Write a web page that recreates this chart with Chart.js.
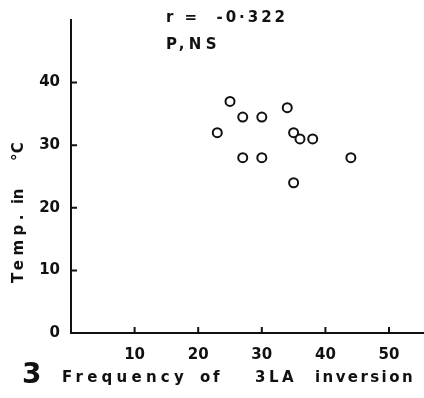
<!DOCTYPE html>
<html>
<head>
<meta charset="utf-8">
<script src="https://cdn.jsdelivr.net/npm/chart.js@4/dist/chart.umd.min.js"></script>
<style>
  html, body { margin: 0; padding: 0; background: #fff; }
  canvas { display: block; }
</style>
</head>
<body>
<canvas id="c" width="424" height="398"></canvas>
<script>
// frequency of 3LA inversion vs temperature
var freq = [25, 27, 30, 34, 23, 35, 36, 38, 27, 30, 44, 35];
var temp = [37, 34.5, 34.5, 36, 32, 32, 31, 31, 28, 28, 28, 24];
var xTicks = [10, 20, 30, 40, 50];
var yTicks = [0, 10, 20, 30, 40];
var rText = 'r =  -0\u00b7322';
var pText = 'P,NS';

var points = freq.map(function(f, i){ return {x: f, y: temp[i]}; });

var ink = '#111';
var font = '"DejaVu Sans", sans-serif';

// draw a word stretched to a given width
function fitText(ctx, txt, x, y, w){
	ctx.letterSpacing = '0px';
	var nat = ctx.measureText(txt).width;
	var sp = (w - nat) / txt.length;
	ctx.letterSpacing = sp + 'px';
	ctx.fillText(txt, x, y);
}

// inward ticks, annotation text and axis titles
var decor = {
	id: 'decor',
	afterDraw: function(chart){
		var ctx = chart.ctx;
		var xs = chart.scales.x, ys = chart.scales.y;
		var area = chart.chartArea;
		ctx.save();
		ctx.strokeStyle = ink;
		ctx.lineWidth = 2;
		ctx.beginPath();
		xTicks.forEach(function(v){
			var px = xs.getPixelForValue(v);
			ctx.moveTo(px, area.bottom);
			ctx.lineTo(px, area.bottom - 6);
		});
		yTicks.forEach(function(v){
			var py = ys.getPixelForValue(v);
			ctx.moveTo(area.left, py);
			ctx.lineTo(area.left + 6, py);
		});
		ctx.stroke();

		ctx.fillStyle = ink;
		ctx.textBaseline = 'middle';
		ctx.textAlign = 'left';
		ctx.font = '600 15px ' + font;
		fitText(ctx, rText, 166, 18, 122);
		fitText(ctx, pText, 166, 45, 55);

		// x title
		ctx.font = 'bold 28px ' + font;
		ctx.letterSpacing = '0px';
		ctx.fillText('3', 22, 376);
		ctx.font = '600 15px ' + font;
		fitText(ctx, 'Frequency', 62, 378, 126);
		fitText(ctx, 'of', 200, 378, 22);
		fitText(ctx, '3LA', 255, 378, 42);
		fitText(ctx, 'inversion', 315, 378, 100);

		// y title
		ctx.translate(19, 0);
		ctx.rotate(-Math.PI / 2);
		fitText(ctx, 'Temp.', -283, 0, 73);
		fitText(ctx, 'in', -204, 0, 15);
		fitText(ctx, '\u00b0C', -161, 0, 19);
		ctx.restore();
	}
};

new Chart(document.getElementById('c'), {
	type: 'scatter',
	data: {
		datasets: [{
			data: points,
			pointStyle: 'circle',
			pointRadius: 4.5,
			pointBorderWidth: 2,
			pointBorderColor: ink,
			pointBackgroundColor: '#fff'
		}]
	},
	options: {
		responsive: false,
		animation: false,
		layout: { autoPadding: false, padding: { top: 20, right: 0, left: 0, bottom: 0 } },
		plugins: { legend: { display: false }, tooltip: { enabled: false } },
		scales: {
			x: {
				type: 'linear',
				min: 0,
				max: 55.5,
				afterFit: function(s){ s.height = 65; },
				afterBuildTicks: function(s){ s.ticks = xTicks.map(function(v){ return {value: v}; }); },
				border: { color: ink, width: 2 },
				grid: { display: false },
				ticks: {
					padding: 5,
					color: ink,
					font: { family: font, size: 15, weight: '600' },
					maxRotation: 0,
					autoSkip: false
				}
			},
			y: {
				min: 0,
				max: 50,
				afterFit: function(s){ s.width = 71; },
				afterBuildTicks: function(s){ s.ticks = yTicks.map(function(v){ return {value: v}; }); },
				border: { color: ink, width: 2 },
				grid: { display: false },
				ticks: {
					padding: 3,
					color: ink,
					font: { family: font, size: 15, weight: '600' },
					autoSkip: false
				}
			}
		}
	},
	plugins: [decor]
});
</script>
</body>
</html>
